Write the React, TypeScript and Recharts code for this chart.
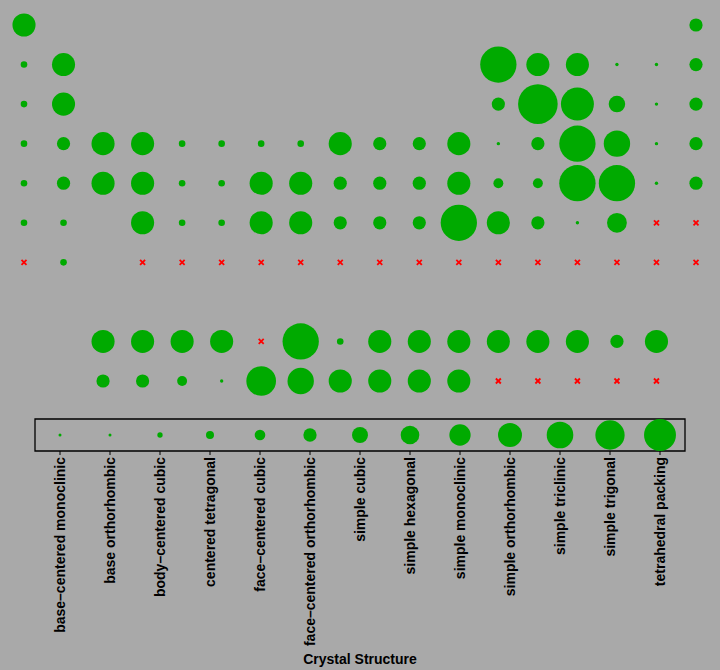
import React from 'react';
import { ScatterChart, Scatter, XAxis, YAxis, ReferenceArea } from 'recharts';

// ============================================================
// CRYSTAL STRUCTURE TABLE
// Periodic table laid out as a bubble grid. Bubble size = crystal
// structure (see legend strip at the bottom), red x = no data.
// ============================================================

const STRUCTURES = [
  'base–centered monoclinic',
  'base orthorhombic',
  'body–centered cubic',
  'centered tetragonal',
  'face–centered cubic',
  'face–centered orthorhombic',
  'simple cubic',
  'simple hexagonal',
  'simple monoclinic',
  'simple orthorhombic',
  'simple triclinic',
  'simple trigonal',
  'tetrahedral packing',
];

// structure number (1..13) per group 1..18; 0 = no data, null = no element
const _ = null;
const PERIOD_1 = [8, _, _, _, _, _, _, _, _, _, _, _, _, _, _, _, _, 5];
const PERIOD_2 = [3, 8, _, _, _, _, _, _, _, _, _, _, 12, 8, 8, 1, 1, 5];
const PERIOD_3 = [3, 8, _, _, _, _, _, _, _, _, _, _, 5, 13, 11, 6, 2, 5];
const PERIOD_4 = [3, 5, 8, 8, 3, 3, 3, 3, 8, 5, 5, 8, 2, 5, 12, 9, 2, 5];
const PERIOD_5 = [3, 5, 8, 8, 3, 3, 8, 8, 5, 5, 5, 8, 4, 4, 12, 12, 2, 5];
const PERIOD_6 = [3, 3, _, 8, 3, 3, 8, 8, 5, 5, 5, 12, 8, 5, 1, 7, 0, 0];
const PERIOD_7 = [0, 3, _, 0, 0, 0, 0, 0, 0, 0, 0, 0, 0, 0, 0, 0, 0, 0];
const LANTHANIDES = [_, _, 8, 8, 8, 8, 0, 12, 3, 8, 8, 8, 8, 8, 8, 5, 8, _];
const ACTINIDES = [_, _, 5, 5, 4, 2, 10, 9, 8, 8, 8, 8, 0, 0, 0, 0, 0, _];

const TABLE_ROWS = [PERIOD_1, PERIOD_2, PERIOD_3, PERIOD_4, PERIOD_5, PERIOD_6, PERIOD_7, LANTHANIDES, ACTINIDES];
const ROW_NUMBERS = [1, 2, 3, 4, 5, 6, 7, 9, 10];

const GREEN = '#00aa00';
const FONT = '"Liberation Sans", Arial, Helvetica, sans-serif';

const cells = TABLE_ROWS.flatMap((row, r) =>
  row.map((s, c) => ({ col: c + 1, row: ROW_NUMBERS[r], s })).filter((d) => d.s !== null)
);
const filled = cells.filter((d) => (d.s as number) > 0);
const missing = cells.filter((d) => d.s === 0);

const legendData = STRUCTURES.map((name, i) => ({ x: i + 1, y: 1, s: i + 1, name }));

function Bubble({ cx, cy, payload }: any) {
  const r = Math.max(1.7, 1.65 * (payload.s - 1));
  return <circle cx={cx} cy={cy} r={r} fill={GREEN} />;
}

function LegendBubble({ cx, cy, payload }: any) {
  const r = Math.max(1.5, 1.33 * (payload.s - 1));
  return <circle cx={cx} cy={cy} r={r} fill={GREEN} />;
}

function Cross({ cx, cy }: any) {
  const d = 2.5;
  return (
    <g stroke="#ff0000" strokeWidth={1.8}>
      <line x1={cx - d} y1={cy - d} x2={cx + d} y2={cy + d} />
      <line x1={cx - d} y1={cy + d} x2={cx + d} y2={cy - d} />
    </g>
  );
}

function StructureTick({ x, y, payload }: any) {
  return (
    <text
      x={x}
      y={y}
      transform={`rotate(-90, ${x}, ${y})`}
      textAnchor="end"
      dy="0.35em"
      fontFamily={FONT}
      fontWeight="bold"
      fontSize={14}
      fill="#000"
    >
      {STRUCTURES[payload.value - 1]}
    </text>
  );
}

export default function App() {
  return (
    <div style={{ position: 'fixed', left: 0, top: 0, width: 720, height: 670, background: '#a9a9a9' }}>
      <div style={{ position: 'absolute', left: 0, top: 0 }}>
        <ScatterChart width={720} height={420} margin={{ top: 25, right: 24, bottom: 39, left: 24 }}>
          <XAxis dataKey="col" type="number" domain={[1, 18]} hide />
          <YAxis dataKey="row" type="number" domain={[1, 10]} reversed hide />
          <Scatter data={filled} shape={<Bubble />} isAnimationActive={false} />
          <Scatter data={missing} shape={<Cross />} isAnimationActive={false} />
        </ScatterChart>
      </div>
      <div style={{ position: 'absolute', left: 0, top: 0 }}>
        <ScatterChart width={720} height={670} margin={{ top: 419, right: 35, bottom: 0, left: 35 }}>
          <XAxis
            dataKey="x"
            type="number"
            domain={[0.5, 13.5]}
            ticks={STRUCTURES.map((_n, i) => i + 1)}
            interval={0}
            height={219}
            tickSize={4}
            tickMargin={2}
            tick={<StructureTick />}
            axisLine={false}
            tickLine={{ stroke: '#000' }}
            label={{
              value: 'Crystal Structure',
              position: 'insideBottom',
              offset: 6,
              style: { fontFamily: FONT, fontWeight: 'bold', fontSize: 14, fill: '#000' },
            }}
          />
          <YAxis dataKey="y" type="number" domain={[0, 2]} width={0} hide />
          <ReferenceArea
            x1={0.5}
            x2={13.5}
            y1={0}
            y2={2}
            fill="none"
            fillOpacity={0}
            stroke="#000"
            strokeWidth={1.3}
            ifOverflow="visible"
          />
          <Scatter data={legendData} shape={<LegendBubble />} isAnimationActive={false} />
        </ScatterChart>
      </div>
    </div>
  );
}
